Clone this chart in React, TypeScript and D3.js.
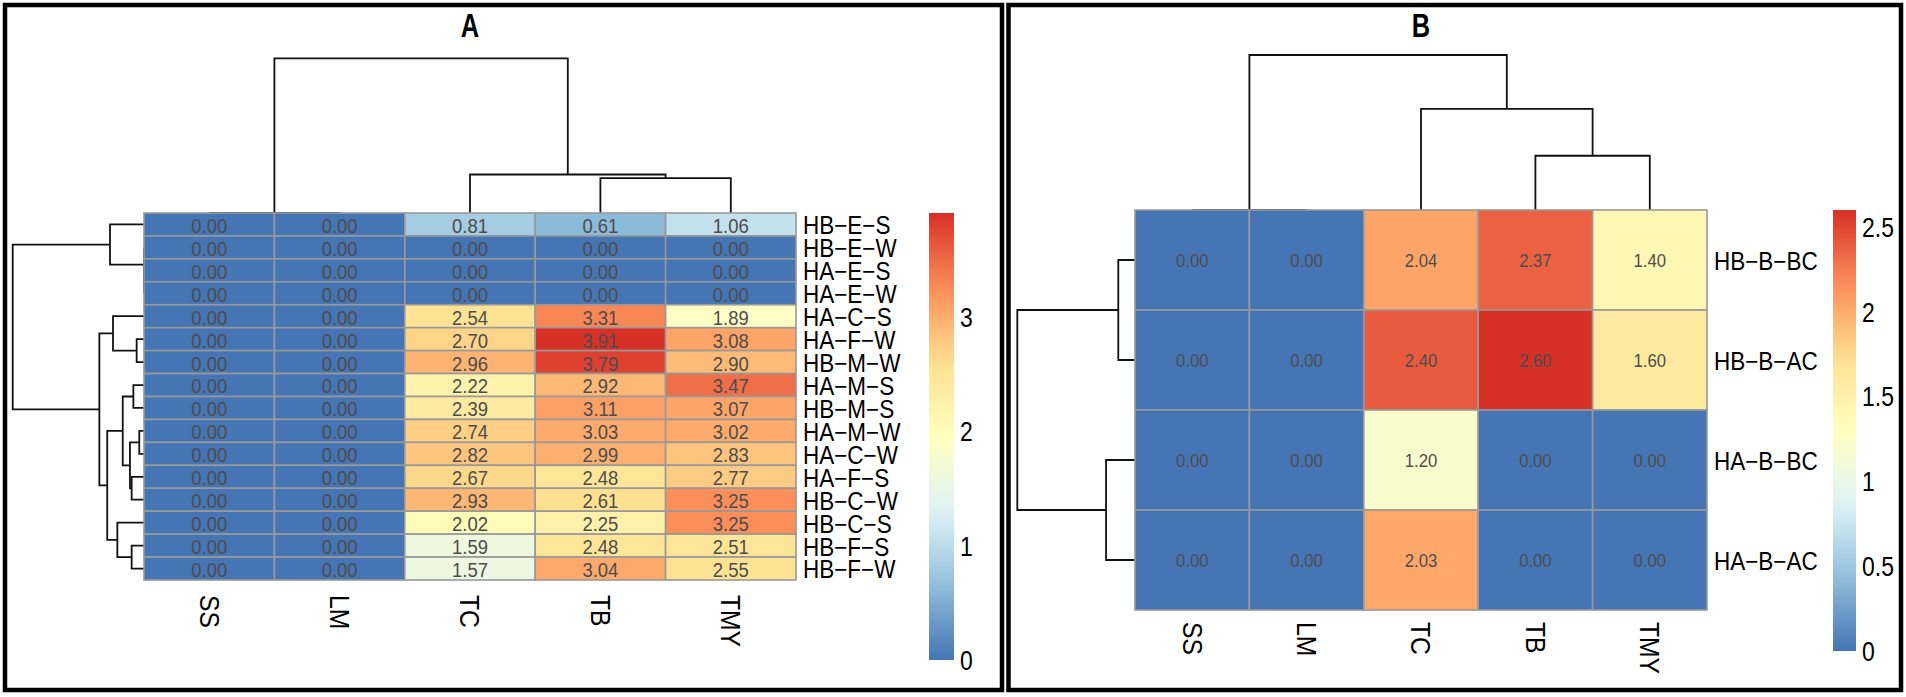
import * as d3 from "d3";
import React from "react";

// hclust-style merges: [a, b, height]; negative = leaf (1-based), positive = earlier merge (1-based)
type Merge = [number, number, number];

const colsA = ["SS", "LM", "TC", "TB", "TMY"];
const rowsA = [
  "HB-E-S", "HB-E-W", "HA-E-S", "HA-E-W", "HA-C-S", "HA-F-W", "HB-M-W", "HA-M-S",
  "HB-M-S", "HA-M-W", "HA-C-W", "HA-F-S", "HB-C-W", "HB-C-S", "HB-F-S", "HB-F-W",
];
const valuesA = [
  [0, 0, 0.81, 0.61, 1.06],
  [0, 0, 0, 0, 0],
  [0, 0, 0, 0, 0],
  [0, 0, 0, 0, 0],
  [0, 0, 2.54, 3.31, 1.89],
  [0, 0, 2.7, 3.91, 3.08],
  [0, 0, 2.96, 3.79, 2.9],
  [0, 0, 2.22, 2.92, 3.47],
  [0, 0, 2.39, 3.11, 3.07],
  [0, 0, 2.74, 3.03, 3.02],
  [0, 0, 2.82, 2.99, 2.83],
  [0, 0, 2.67, 2.48, 2.77],
  [0, 0, 2.93, 2.61, 3.25],
  [0, 0, 2.02, 2.25, 3.25],
  [0, 0, 1.59, 2.48, 2.51],
  [0, 0, 1.57, 3.04, 2.55],
];
const rowMergeA: Merge[] = [
  [-3, -4, 0],
  [-2, 1, 0],
  [-1, 2, 0.259],
  [-6, -7, 0.056],
  [-5, 4, 0.236],
  [-10, -11, 0.036],
  [-12, -13, 0.094],
  [6, 7, 0.107],
  [-8, -9, 0.081],
  [9, 8, 0.162],
  [-15, -16, 0.094],
  [-14, 11, 0.203],
  [10, 12, 0.28],
  [5, 13, 0.34],
  [3, 14, 1.0],
];
const colMergeA: Merge[] = [
  [-1, -2, 0],
  [-4, -5, 0.226],
  [-3, 2, 0.249],
  [1, 3, 1.0],
];
const ticksA = [0, 1, 2, 3];

const colsB = ["SS", "LM", "TC", "TB", "TMY"];
const rowsB = ["HB-B-BC", "HB-B-AC", "HA-B-BC", "HA-B-AC"];
const valuesB = [
  [0, 0, 2.04, 2.37, 1.4],
  [0, 0, 2.4, 2.6, 1.6],
  [0, 0, 1.2, 0, 0],
  [0, 0, 2.03, 0, 0],
];
const rowMergeB: Merge[] = [
  [-1, -2, 0.142],
  [-3, -4, 0.246],
  [1, 2, 1.0],
];
const colMergeB: Merge[] = [
  [-1, -2, 0],
  [-4, -5, 0.35],
  [-3, 2, 0.652],
  [1, 3, 1.0],
];
const ticksB = [0, 0.5, 1, 1.5, 2, 2.5];

// rev(brewer.pal(7, "RdYlBu"))
const palette = ["#4575B4", "#91BFDB", "#E0F3F8", "#FFFFBF", "#FEE090", "#FC8D59", "#D73027"];

const FONT = "'Liberation Sans', Arial, Helvetica, sans-serif";
const minus = (s: string) => s.replace(/-/g, "\u2212");

// text squeezed horizontally, like the original export
const Txt: React.FC<{
  x: number;
  y: number;
  size: number;
  sx?: number;
  rotate?: number;
  anchor?: string;
  fill?: string;
  bold?: boolean;
  children: React.ReactNode;
}> = ({ x, y, size, sx = 1, rotate = 0, anchor = "start", fill = "#000", bold, children }) => (
  <text
    transform={`translate(${x},${y}) rotate(${rotate}) scale(${sx},1)`}
    textAnchor={anchor}
    dominantBaseline="central"
    fontFamily={FONT}
    fontSize={size}
    fontWeight={bold ? "bold" : "normal"}
    fill={fill}
  >
    {children}
  </text>
);

function treePaths(
  merges: Merge[],
  leafPos: (i: number) => number,
  hPos: (h: number) => number,
  alongX: boolean
) {
  const pos: number[] = [];
  const paths: string[] = [];
  const child = (c: number) =>
    c < 0 ? { p: leafPos(-c - 1), h: 0 } : { p: pos[c - 1], h: merges[c - 1][2] };
  merges.forEach(([a, b, h]) => {
    const ca = child(a);
    const cb = child(b);
    pos.push((ca.p + cb.p) / 2);
    if (alongX) {
      paths.push(`M${hPos(ca.h)},${ca.p}H${hPos(h)}V${cb.p}H${hPos(cb.h)}`);
    } else {
      paths.push(`M${ca.p},${hPos(ca.h)}V${hPos(h)}H${cb.p}V${hPos(cb.h)}`);
    }
  });
  return paths;
}

type PanelProps = {
  id: string;
  title: string;
  rows: string[];
  cols: string[];
  values: number[][];
  rowMerge: Merge[];
  colMerge: Merge[];
  ticks: number[];
  frame: [number, number, number, number];
  left: number;
  right: number;
  top: number;
  bottom: number;
  rowRoot: number;
  colRoot: number;
  legendX: number;
  legendW: number;
  legendZero: number;
  titleY: number;
  labelSize: number;
  colLabelSize: number;
  colLabelGap: number;
  cellSize: number;
  tickSize: number;
};

const Panel: React.FC<PanelProps> = (p) => {
  const x = d3.scaleBand<string>().domain(p.cols).range([p.left, p.right]);
  const y = d3.scaleBand<string>().domain(p.rows).range([p.top, p.bottom]);
  const vmax = d3.max(p.values.flat()) ?? 1;
  const color = d3
    .scaleLinear<string>()
    .domain(palette.map((_, i) => (i * vmax) / (palette.length - 1)))
    .range(palette)
    .interpolate(d3.interpolateRgb);

  const rowH = d3
    .scaleLinear()
    .domain([0, d3.max(p.rowMerge, (m) => m[2]) ?? 1])
    .range([p.left, p.rowRoot]);
  const colH = d3
    .scaleLinear()
    .domain([0, d3.max(p.colMerge, (m) => m[2]) ?? 1])
    .range([p.top, p.colRoot]);

  const rowPaths = treePaths(p.rowMerge, (i) => (y(p.rows[i]) ?? 0) + y.bandwidth() / 2, rowH, true);
  const colPaths = treePaths(p.colMerge, (i) => (x(p.cols[i]) ?? 0) + x.bandwidth() / 2, colH, false);

  const legend = d3.scaleLinear().domain([0, vmax]).range([p.legendZero, p.top]);
  const fmt = d3.format(".2f");
  const gradStops = d3.range(0, 21).map((i) => i / 20);
  const [fx, fy, fw, fh] = p.frame;

  return (
    <g>
      <rect x={fx} y={fy} width={fw} height={fh} fill="none" stroke="#000" strokeWidth={4.5} />
      <Txt x={(p.left + p.right) / 2} y={p.titleY} size={34} sx={0.75} anchor="middle" bold>
        {p.title}
      </Txt>

      <g fill="none" stroke="#111" strokeWidth={1.8}>
        {rowPaths.map((d, i) => (
          <path key={"r" + i} d={d} />
        ))}
        {colPaths.map((d, i) => (
          <path key={"c" + i} d={d} />
        ))}
      </g>

      <g>
        {p.rows.map((r, ri) =>
          p.cols.map((c, ci) => {
            const v = p.values[ri][ci];
            const cx = (x(c) ?? 0) + x.bandwidth() / 2;
            const cy = (y(r) ?? 0) + y.bandwidth() / 2;
            return (
              <g key={r + c}>
                <rect
                  x={x(c)}
                  y={y(r)}
                  width={x.bandwidth()}
                  height={y.bandwidth()}
                  fill={color(v)}
                  stroke="#999999"
                  strokeWidth={1.6}
                />
                <Txt x={cx} y={cy + 1} size={p.cellSize} sx={0.88} anchor="middle" fill="#4D4D4D">
                  {fmt(v)}
                </Txt>
              </g>
            );
          })
        )}
      </g>

      {p.rows.map((r) => (
        <Txt key={r} x={p.right + 7} y={(y(r) ?? 0) + y.bandwidth() / 2 + 1} size={p.labelSize} sx={0.9}>
          {minus(r)}
        </Txt>
      ))}
      {p.cols.map((c) => (
        <Txt
          key={c}
          x={(x(c) ?? 0) + x.bandwidth() / 2}
          y={p.bottom + p.colLabelGap}
          size={p.colLabelSize}
          sx={0.88}
          rotate={90}
        >
          {c}
        </Txt>
      ))}

      <defs>
        <linearGradient id={p.id} x1="0" y1="1" x2="0" y2="0">
          {gradStops.map((t) => (
            <stop key={t} offset={t} stopColor={color(t * vmax)} />
          ))}
        </linearGradient>
      </defs>
      <rect
        x={p.legendX}
        y={p.top}
        width={p.legendW}
        height={p.legendZero - p.top}
        fill={`url(#${p.id})`}
      />
      {p.ticks.map((t) => (
        <Txt key={t} x={p.legendX + p.legendW + 6} y={legend(t)} size={p.tickSize} sx={0.82}>
          {String(t)}
        </Txt>
      ))}
    </g>
  );
};

export default function App() {
  return (
    <svg
      width={1906}
      height={697}
      style={{ position: "absolute", left: 0, top: 0, background: "#fff" }}
    >
      <rect width={1906} height={697} fill="#fff" />
      <Panel
        id="gradA"
        title="A"
        rows={rowsA}
        cols={colsA}
        values={valuesA}
        rowMerge={rowMergeA}
        colMerge={colMergeA}
        ticks={ticksA}
        frame={[5, 5, 997, 685]}
        left={144}
        right={796}
        top={213}
        bottom={580}
        rowRoot={12.7}
        colRoot={58.3}
        legendX={929}
        legendW={25}
        legendZero={660}
        titleY={25}
        labelSize={25}
        colLabelSize={28}
        colLabelGap={15}
        cellSize={21}
        tickSize={28}
      />
      <Panel
        id="gradB"
        title="B"
        rows={rowsB}
        cols={colsB}
        values={valuesB}
        rowMerge={rowMergeB}
        colMerge={colMergeB}
        ticks={ticksB}
        frame={[1008.5, 5, 892.5, 685]}
        left={1135}
        right={1707}
        top={210}
        bottom={610}
        rowRoot={1017.3}
        colRoot={55}
        legendX={1833}
        legendW={23}
        legendZero={651}
        titleY={25}
        labelSize={25}
        colLabelSize={28}
        colLabelGap={12}
        cellSize={19}
        tickSize={28}
      />
    </svg>
  );
}
